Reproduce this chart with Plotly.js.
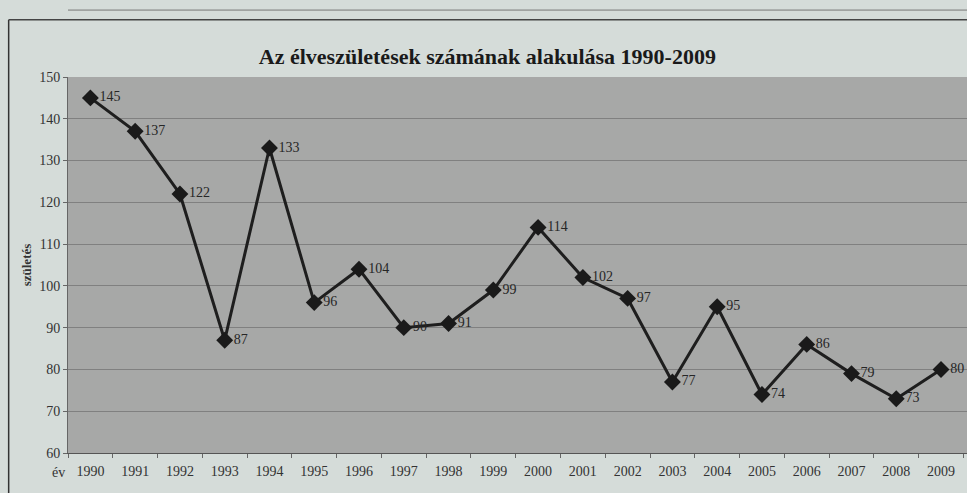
<!DOCTYPE html>
<html>
<head>
<meta charset="utf-8">
<script src="https://cdn.plot.ly/plotly-3.0.1.min.js"></script>
<style>html,body{margin:0;padding:0;background:#d6dddb;}#chart{width:967px;height:493px;}</style>
</head>
<body>
<div id="chart"></div>
<script>
const years = ['1990','1991','1992','1993','1994','1995','1996','1997','1998','1999','2000','2001','2002','2003','2004','2005','2006','2007','2008','2009'];
const births = [145,137,122,87,133,96,104,90,91,99,114,102,97,77,95,74,86,79,73,80];
const yTicks = [60,70,80,90,100,110,120,130,140,150];

const serif = 'Liberation Serif, Times New Roman, serif';

const trace = {
  type: 'scatter',
  mode: 'lines+markers+text',
  x: years,
  y: births,
  text: births.map(String),
  textposition: 'middle right',
  textfont: {family: serif, size: 14, color: '#262626'},
  line: {color: '#1e1e1e', width: 3},
  marker: {symbol: 'diamond', size: 13, color: '#1a1a1a'},
  cliponaxis: false,
  hoverinfo: 'x+y'
};

const layout = {
  width: 967, height: 493,
  margin: {l: 68, r: 0, t: 77, b: 40},
  paper_bgcolor: '#d5dcd9',
  plot_bgcolor: '#a7a8a7',
  showlegend: false,
  title: {
    text: '<b>Az élveszületések számának alakulása 1990-2009</b>',
    font: {family: serif, size: 22, color: '#1a1a1a'},
    x: 0.504, xanchor: 'center', y: 0.886, yanchor: 'middle'
  },
  xaxis: {
    type: 'category',
    range: [-0.5, 19.58],
    tickson: 'boundaries',
    ticks: 'outside', ticklen: 4, tickcolor: '#666',
    ticklabelstandoff: 5,
    showgrid: false,
    showline: true, linecolor: '#555', linewidth: 1,
    tickfont: {family: serif, size: 14, color: '#333'},
    zeroline: false
  },
  yaxis: {
    range: [60, 150],
    tickvals: yTicks,
    ticks: 'outside', ticklen: 4, tickcolor: '#666',
    showgrid: true, gridcolor: '#808080', gridwidth: 1,
    showline: true, linecolor: '#666', linewidth: 1,
    tickfont: {family: serif, size: 14, color: '#333'},
    zeroline: false,
    title: {text: '<b>születés</b>', font: {family: serif, size: 13, color: '#333'}, standoff: 4}
  },
  annotations: [
    {xref: 'paper', yref: 'paper', x: -0.001, y: -0.053, xanchor: 'right', yanchor: 'middle',
     text: 'év', showarrow: false, font: {family: serif, size: 14, color: '#333'}}
  ],
  shapes: [
    {type: 'line', xref: 'paper', yref: 'paper', x0: -0.066, x1: -0.066, y0: -0.2, y1: 1.152,
     line: {color: '#333', width: 1.5}},
    {type: 'line', xref: 'paper', yref: 'paper', x0: -0.066, x1: 1.0, y0: 1.152, y1: 1.152,
     line: {color: '#444', width: 1.5}},
    {type: 'line', xref: 'paper', yref: 'paper', x0: 0.0, x1: 1.0, y0: 1.178, y1: 1.178,
     line: {color: '#777', width: 1}}
  ]
};

Plotly.newPlot('chart', [trace], layout, {displayModeBar: false, staticPlot: true});
</script>
</body>
</html>
